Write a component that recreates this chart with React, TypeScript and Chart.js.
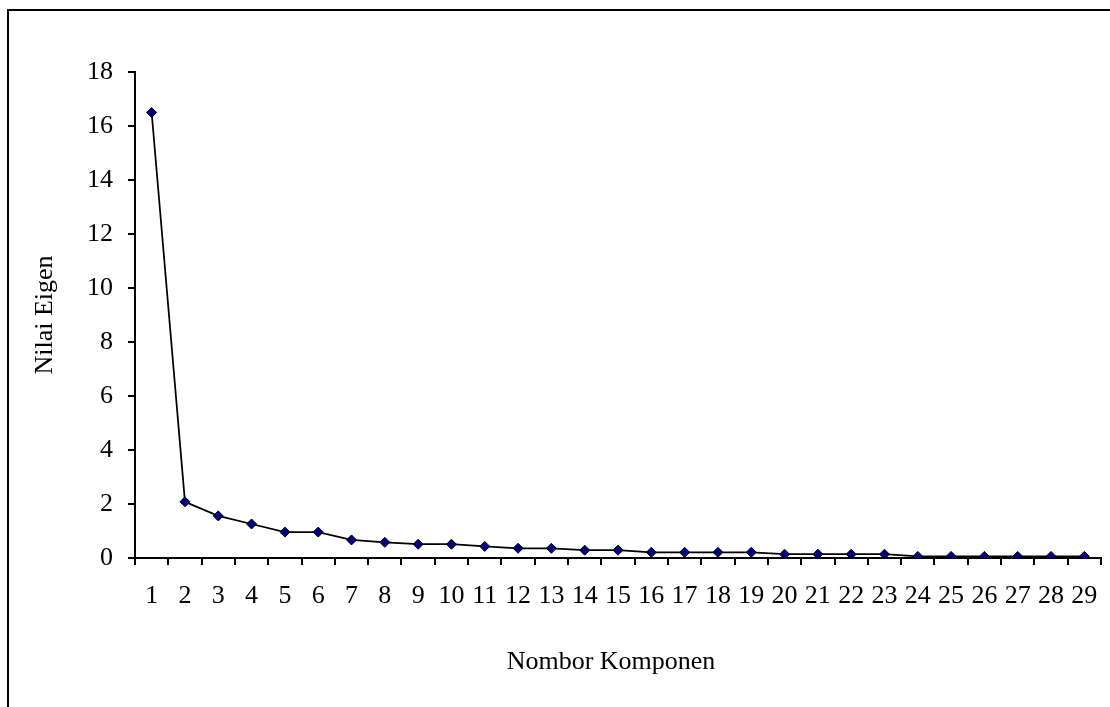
import React, { useEffect, useRef } from "react";
import { Chart, registerables } from "chart.js";

Chart.register(...registerables);

const FONT = "'Liberation Serif', 'Times New Roman', serif";

const components: string[] = [
  "1", "2", "3", "4", "5", "6", "7", "8", "9", "10",
  "11", "12", "13", "14", "15", "16", "17", "18", "19", "20",
  "21", "22", "23", "24", "25", "26", "27", "28", "29",
];

const eigenValues: number[] = [
  16.5, 2.08, 1.56, 1.26, 0.96, 0.96, 0.67, 0.58, 0.51, 0.51,
  0.43, 0.36, 0.36, 0.29, 0.29, 0.21, 0.21, 0.21, 0.21, 0.14,
  0.14, 0.14, 0.14, 0.06, 0.06, 0.06, 0.06, 0.06, 0.06,
];

const yMin = 0;
const yMax = 18;
const yStep = 2;

const xTitle = "Nombor Komponen";
const yTitle = "Nilai Eigen";

export default function App() {
  const canvasRef = useRef<HTMLCanvasElement | null>(null);

  useEffect(() => {
    const canvas = canvasRef.current;
    if (!canvas) return;

    const decor = {
      id: "decor",
      afterDraw(chart: any) {
        const ctx = chart.ctx as CanvasRenderingContext2D;
        const area = chart.chartArea;
        ctx.save();
        ctx.strokeStyle = "#000";
        ctx.lineWidth = 2;
        ctx.strokeRect(8, 10, 1300, 900);
        ctx.fillStyle = "#000";
        ctx.font = `26px ${FONT}`;
        ctx.textAlign = "center";
        ctx.textBaseline = "middle";
        ctx.fillText(xTitle, (area.left + area.right) / 2 - 7, 662);
        ctx.translate(45, (area.top + area.bottom) / 2);
        ctx.rotate(-Math.PI / 2);
        ctx.fillText(yTitle, 0, 0);
        ctx.restore();
      },
    };

    const chart = new Chart(canvas, {
      type: "line",
      data: {
        labels: components,
        datasets: [
          {
            data: eigenValues,
            borderColor: "#000",
            borderWidth: 1.75,
            backgroundColor: "#000080",
            pointStyle: "rectRot",
            pointRadius: 5,
            pointBorderColor: "#000",
            pointBorderWidth: 1,
            pointBackgroundColor: "#000080",
            tension: 0,
            fill: false,
          },
        ],
      },
      options: {
        animation: false,
        responsive: false,
        events: [],
        layout: { padding: { left: 0, top: 72, right: 9, bottom: 0 } },
        plugins: {
          legend: { display: false },
          tooltip: { enabled: false },
        },
        scales: {
          x: {
            type: "category",
            offset: true,
            grid: {
              offset: true,
              drawOnChartArea: false,
              drawTicks: true,
              tickLength: 7,
              color: "#000",
              lineWidth: 2,
            },
            border: { display: true, color: "#000", width: 2 },
            ticks: {
              color: "#000",
              font: { family: FONT, size: 26 },
              padding: 16,
              maxRotation: 0,
              autoSkip: false,
            },
            afterFit(scale: any) {
              scale.height = 149;
              scale.paddingRight = 0;
              scale.paddingLeft = 0;
            },
          },
          y: {
            min: yMin,
            max: yMax,
            grid: {
              drawOnChartArea: false,
              drawTicks: true,
              tickLength: 7,
              color: "#000",
              lineWidth: 2,
            },
            border: { display: true, color: "#000", width: 2 },
            ticks: {
              stepSize: yStep,
              color: "#000",
              font: { family: FONT, size: 26 },
              padding: 15,
            },
            afterFit(scale: any) {
              scale.width = 135;
            },
          },
        },
      },
      plugins: [decor],
    });

    return () => chart.destroy();
  }, []);

  return (
    <div style={{ position: "fixed", left: 0, top: 0, width: 1110, height: 707, background: "#fff" }}>
      <canvas ref={canvasRef} width={1110} height={707} style={{ display: "block" }} />
    </div>
  );
}
